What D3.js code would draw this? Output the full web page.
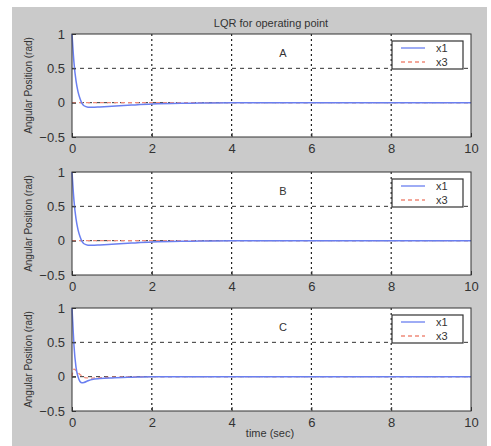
<!DOCTYPE html>
<html>
<head>
<meta charset="utf-8">
<script src="https://cdn.jsdelivr.net/npm/d3@7"></script>
<style>
  body { margin: 0; background: #fff; }
  text { font-family: "Liberation Sans", Arial, sans-serif; fill: #333; }
</style>
</head>
<body>
<svg id="chart" width="491" height="446"></svg>
<script>
// time samples (sec)
const time = [0, 0.02, 0.05, 0.1, 0.15, 0.2, 0.25, 0.3, 0.4, 0.5, 0.7, 1, 1.5, 2, 3, 4, 6, 8, 10];

const panelNames = ["A", "B", "C"];
const x1A = [1, 0.82, 0.58, 0.32, 0.16, 0.06, -0.01, -0.045, -0.065, -0.067, -0.062, -0.052, -0.035, -0.02, -0.008, 0, 0, 0, 0];
const x3A = [0, 0, 0, 0, 0, 0, 0, 0, 0, 0, 0, 0, 0, 0, 0, 0, 0, 0, 0];
const x1B = [1, 0.82, 0.58, 0.32, 0.16, 0.06, -0.01, -0.045, -0.065, -0.067, -0.062, -0.052, -0.035, -0.02, -0.008, 0, 0, 0, 0];
const x3B = [0, 0, 0, 0, 0, 0, 0, 0, 0, 0, 0, 0, 0, 0, 0, 0, 0, 0, 0];
const x1C = [1, 0.78, 0.45, 0.14, 0.0, -0.07, -0.09, -0.085, -0.06, -0.04, -0.028, -0.018, -0.008, 0, 0, 0, 0, 0, 0];
const x3C = [0, 0.07, 0.11, 0.09, 0.06, 0.03, 0.01, -0.008, -0.018, -0.02, -0.015, -0.008, -0.003, 0, 0, 0, 0, 0, 0];

const x1Series = [x1A, x1B, x1C];
const x3Series = [x3A, x3B, x3C];

const xTicks = [0, 2, 4, 6, 8, 10];
const yTicks = [-0.5, 0, 0.5, 1];
const legendLabels = ["x1", "x3"];

const svg = d3.select("#chart");

// grey figure background
svg.append("rect")
  .attr("x", 12).attr("y", 7)
  .attr("width", 475).attr("height", 439)
  .attr("fill", "#cacaca");

const left = 72, right = 471;
const panelTops = [34, 172, 308];
const panelH = 103;

const x = d3.scaleLinear().domain([0, 10]).range([left, right]);

svg.append("text")
  .attr("x", 271).attr("y", 27)
  .attr("text-anchor", "middle")
  .attr("font-size", 11)
  .text("LQR for operating point");

panelNames.forEach((name, i) => {
  const top = panelTops[i];
  const y = d3.scaleLinear().domain([-0.5, 1]).range([top + panelH, top]);
  const g = svg.append("g");

  g.append("rect")
    .attr("x", left).attr("y", top)
    .attr("width", right - left).attr("height", panelH)
    .attr("fill", "#fff");

  // grid lines
  xTicks.slice(1, -1).forEach(t => {
    g.append("line")
      .attr("x1", x(t)).attr("x2", x(t))
      .attr("y1", top).attr("y2", top + panelH)
      .attr("stroke", "#222").attr("stroke-width", 1.2)
      .attr("stroke-dasharray", "2,3");
  });
  yTicks.slice(1, -1).forEach(v => {
    g.append("line")
      .attr("x1", left).attr("x2", right)
      .attr("y1", y(v)).attr("y2", y(v))
      .attr("stroke", "#333").attr("stroke-width", 1)
      .attr("stroke-dasharray", "4,4");
  });

  // curves
  const line = d3.line()
    .x((d, k) => x(time[k]))
    .y(d => y(d))
    .curve(d3.curveMonotoneX);

  g.append("path")
    .datum(x3Series[i])
    .attr("d", line)
    .attr("fill", "none")
    .attr("stroke", "#f08a7a").attr("stroke-width", 1.3)
    .attr("stroke-dasharray", "4,3");

  g.append("path")
    .datum(x1Series[i])
    .attr("d", line)
    .attr("fill", "none")
    .attr("stroke", "#6a7ff0").attr("stroke-width", 1.5);

  // frame
  g.append("rect")
    .attr("x", left).attr("y", top)
    .attr("width", right - left).attr("height", panelH)
    .attr("fill", "none").attr("stroke", "#333").attr("stroke-width", 1);

  // axes (ticks inside, like matlab)
  const xAxis = g.append("g")
    .attr("transform", `translate(0,${top + panelH})`)
    .call(d3.axisBottom(x).tickValues(xTicks).tickSizeInner(-4).tickSizeOuter(0).tickPadding(7));
  xAxis.select(".domain").remove();
  xAxis.selectAll("text").attr("font-size", 13).attr("fill", "#333")
    .attr("font-family", "Liberation Sans, Arial, sans-serif");
  xAxis.selectAll("line").attr("stroke", "#333");

  const yAxis = g.append("g")
    .attr("transform", `translate(${left},0)`)
    .call(d3.axisLeft(y).tickValues(yTicks).tickFormat(d3.format("")).tickSizeInner(-4).tickSizeOuter(0).tickPadding(7));
  yAxis.select(".domain").remove();
  yAxis.selectAll("text").attr("font-size", 13).attr("fill", "#333")
    .attr("font-family", "Liberation Sans, Arial, sans-serif");
  yAxis.selectAll("line").attr("stroke", "#333");

  g.append("text")
    .attr("transform", `translate(32,${top + panelH / 2}) rotate(-90)`)
    .attr("text-anchor", "middle")
    .attr("font-size", 10)
    .text("Angular Position (rad)");

  g.append("text")
    .attr("x", 283).attr("y", top + 23)
    .attr("text-anchor", "middle")
    .attr("font-size", 11)
    .text(name);

  // legend
  const lg = g.append("g").attr("transform", `translate(392,${top + 7})`);
  lg.append("rect")
    .attr("width", 71).attr("height", 28)
    .attr("fill", "#fff").attr("stroke", "#333").attr("stroke-width", 1.2);
  legendLabels.forEach((lab, k) => {
    const ly = 7 + k * 14;
    lg.append("line")
      .attr("x1", 9).attr("x2", 33).attr("y1", ly).attr("y2", ly)
      .attr("stroke", k === 0 ? "#6a7ff0" : "#f08a7a")
      .attr("stroke-width", 1.3)
      .attr("stroke-dasharray", k === 0 ? null : "4,3");
    lg.append("text")
      .attr("x", 44).attr("y", ly + 4)
      .attr("font-size", 11)
      .text(lab);
  });
});

svg.append("text")
  .attr("x", 270).attr("y", 437)
  .attr("text-anchor", "middle")
  .attr("font-size", 11)
  .text("time (sec)");
</script>
</body>
</html>
